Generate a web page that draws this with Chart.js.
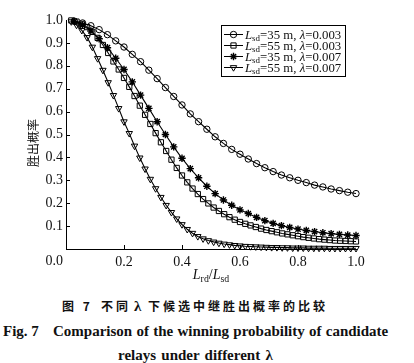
<!DOCTYPE html>
<html>
<head>
<meta charset="utf-8">
<script src="https://cdn.jsdelivr.net/npm/chart.js@4/dist/chart.umd.min.js"></script>
<style>
  html, body { margin: 0; padding: 0; background: #fff; }
  body { width: 414px; height: 363px; position: relative; overflow: hidden; }
  #chart { position: absolute; left: 0; top: 0; }
  .cap { position: absolute; white-space: nowrap; color: #111; line-height: 16px; }
  .cn { font-family: "Noto Sans CJK SC", sans-serif; font-size: 12px; font-weight: 700; letter-spacing: 3px; }
  .en { font-family: "Liberation Serif", serif; font-size: 15px; font-weight: 700; }
</style>
</head>
<body>
<canvas id="chart" width="414" height="285"></canvas>

<span class="cap cn" style="left:62px; top:298px">图 7</span>
<span class="cap cn" style="left:101px; top:298px">不同</span>
<span class="cap en" style="left:134px; top:298px">λ</span>
<span class="cap cn" style="left:148px; top:298px">下候选中继胜出概率的比较</span>
<span class="cap en" style="left:3px; top:323px">Fig. 7</span>
<span class="cap en" style="left:53px; top:323px; word-spacing:0.5px">Comparison of the winning probability of candidate</span>
<span class="cap en" style="left:118px; top:347px; word-spacing:1.5px">relays under different λ</span>

<script>
// L_rd in metres, one marker per metre
const lrd35 = [1,2,3,4,5,6,7,8,9,10,11,12,13,14,15,16,17,18,19,20,21,22,23,24,25,26,27,28,29,30,31,32,33,34,35]
const lrd55 = [1,2,3,4,5,6,7,8,9,10,11,12,13,14,15,16,17,18,19,20,21,22,23,24,25,26,27,28,29,30,
  31,32,33,34,35,36,37,38,39,40,41,42,43,44,45,46,47,48,49,50,51,52,53,54,55]

// winning probability
const p35_003 = [0.995,0.987,0.975,0.958,0.936,0.909,0.882,0.850,0.818,0.781,
  0.744,0.705,0.666,0.629,0.590,0.556,0.523,0.490,0.461,0.435,
  0.414,0.393,0.373,0.355,0.338,0.323,0.311,0.300,0.290,0.279,
  0.271,0.262,0.255,0.248,0.242]
const p55_003 = [0.998,0.993,0.983,0.969,0.948,0.922,0.891,0.856,0.819,0.784,
  0.747,0.708,0.668,0.626,0.586,0.546,0.506,0.466,0.428,0.390,
  0.354,0.321,0.291,0.264,0.240,0.218,0.199,0.181,0.166,0.152,
  0.139,0.128,0.118,0.110,0.103,0.096,0.089,0.083,0.078,0.073,
  0.068,0.064,0.060,0.056,0.052,0.049,0.046,0.043,0.041,0.039,
  0.037,0.036,0.035,0.034,0.033]
const p35_007 = [0.994,0.978,0.952,0.918,0.879,0.833,0.784,0.730,0.672,0.614,
  0.556,0.500,0.446,0.396,0.351,0.311,0.274,0.242,0.214,0.191,
  0.171,0.155,0.138,0.124,0.112,0.102,0.094,0.087,0.081,0.076,
  0.071,0.067,0.064,0.061,0.059]
const p55_007 = [0.993,0.978,0.955,0.924,0.882,0.832,0.781,0.727,0.671,0.614,
  0.556,0.505,0.450,0.398,0.350,0.305,0.264,0.226,0.191,0.160,
  0.132,0.107,0.086,0.069,0.055,0.045,0.037,0.031,0.026,0.022,
  0.019,0.016,0.014,0.012,0.011,0.010,0.009,0.008,0.007,0.007,
  0.006,0.006,0.005,0.005,0.005,0.004,0.004,0.004,0.004,0.003,
  0.003,0.003,0.003,0.003,0.003]

const lsdList = [35, 55, 35, 55]
const lambdaList = ['0.003', '0.003', '0.007', '0.007']
const xTickMarks = [0.2, 0.4, 0.6, 0.8]
const yTickMarks = [0.1, 0.2, 0.3, 0.4, 0.5, 0.6, 0.7, 0.8, 0.9]
const yTitle = '胜出概率'

const toPoints = (lrd, lsd, p) => lrd.map((d, i) => ({x: d / lsd, y: p[i]}))

const markers = [
  {pointStyle: 'circle', pointRadius: 3.2, pointRotation: 0, pointBorderWidth: 1, fill: 'rgba(0,0,0,0)'},
  {pointStyle: 'rect', pointRadius: 3.7, pointRotation: 0, pointBorderWidth: 1, fill: 'rgba(0,0,0,0)'},
  {pointStyle: 'star', pointRadius: 3.7, pointRotation: 0, pointBorderWidth: 1.4, fill: '#000'},
  {pointStyle: 'triangle', pointRadius: 3.7, pointRotation: 180, pointBorderWidth: 1, fill: 'rgba(0,0,0,0)'}
]

const series = [
  toPoints(lrd35, 35, p35_003),
  toPoints(lrd55, 55, p55_003),
  toPoints(lrd35, 35, p35_007),
  toPoints(lrd55, 55, p55_007)
]

const serif = '"Liberation Serif", "Times New Roman", serif'

const drawParts = (ctx, parts, x, y, size, center) => {
  const fontOf = p => (p.i ? 'italic ' : '') + (p.sub ? size * 0.7 : size) + 'px ' + serif
  let w = 0
  parts.forEach(p => { ctx.font = fontOf(p); w += ctx.measureText(p.t).width })
  let cx = center ? x - w / 2 : x
  parts.forEach(p => {
    ctx.font = fontOf(p)
    ctx.fillText(p.t, cx, y + (p.sub ? size * 0.22 : 0))
    cx += ctx.measureText(p.t).width
  })
}

const decor = {
  id: 'decor',
  afterDraw(chart) {
    const {ctx, chartArea: a, scales: {x, y}} = chart
    ctx.save()
    ctx.strokeStyle = '#000'
    ctx.lineWidth = 1
    // inward tick marks
    yTickMarks.forEach(v => {
      const py = Math.round(y.getPixelForValue(v)) + 0.5
      ctx.beginPath(); ctx.moveTo(a.left, py); ctx.lineTo(a.left + 4, py); ctx.stroke()
    })
    xTickMarks.forEach(v => {
      const px = Math.round(x.getPixelForValue(v)) + 0.5
      ctx.beginPath(); ctx.moveTo(px, a.bottom); ctx.lineTo(px, a.bottom - 4); ctx.stroke()
    })

    ctx.fillStyle = '#111'
    // shared origin label
    ctx.font = '14px ' + serif
    ctx.textAlign = 'right'
    ctx.textBaseline = 'middle'
    ctx.fillText('0.0', a.left - 3, a.bottom + 12)

    // y title
    ctx.save()
    ctx.translate(33, 143)
    ctx.rotate(-Math.PI / 2)
    ctx.textAlign = 'center'
    ctx.font = '12px "Noto Sans CJK SC"'
    ctx.fillText(yTitle, 0, 0)
    ctx.restore()

    // x title
    ctx.textAlign = 'left'
    ctx.textBaseline = 'alphabetic'
    drawParts(ctx, [{t: 'L', i: 1}, {t: 'rd', sub: 1}, {t: '/'}, {t: 'L', i: 1}, {t: 'sd', sub: 1}],
      (a.left + a.right) / 2, 279, 14, true)

    // legend
    ctx.strokeRect(221.5, 25.5, 124, 51)
    chart.data.datasets.forEach((ds, i) => {
      const cy = 34.5 + i * 11
      ctx.strokeStyle = '#000'
      ctx.lineWidth = 1
      ctx.beginPath(); ctx.moveTo(224, cy); ctx.lineTo(243, cy); ctx.stroke()
      const m = markers[i]
      ctx.fillStyle = m.fill
      ctx.lineWidth = m.pointBorderWidth
      Chart.helpers.drawPoint(ctx, {pointStyle: m.pointStyle, radius: m.pointRadius,
        rotation: m.pointRotation, borderWidth: m.pointBorderWidth}, 233.5, cy)
      ctx.fillStyle = '#111'
      drawParts(ctx, [{t: 'L', i: 1}, {t: 'sd', sub: 1}, {t: '=' + lsdList[i] + ' m, '},
        {t: 'λ', i: 1}, {t: '=' + lambdaList[i]}], 245, cy + 4, 12.8, false)
    })
    ctx.restore()
  }
}

const tickFont = {family: serif, size: 14}

new Chart(document.querySelector('#chart'), {
  type: 'line',
  data: {
    datasets: series.map((pts, i) => ({
      label: 'Lsd=' + lsdList[i] + ' m, λ=' + lambdaList[i],
      data: pts,
      borderColor: '#000',
      borderWidth: 1.1,
      backgroundColor: markers[i].fill,
      pointBackgroundColor: markers[i].fill,
      pointBorderColor: '#000',
      pointStyle: markers[i].pointStyle,
      pointRadius: markers[i].pointRadius,
      pointRotation: markers[i].pointRotation,
      pointBorderWidth: markers[i].pointBorderWidth,
      tension: 0,
      fill: false,
      clip: false
    }))
  },
  options: {
    responsive: false,
    animation: false,
    layout: {padding: {left: 0, right: 58, top: 20, bottom: 0}},
    plugins: {legend: {display: false}, tooltip: {enabled: false}},
    scales: {
      x: {
        type: 'linear', min: 0, max: 1,
        afterFit: s => { s.height = 36 },
        border: {display: true, color: '#000', width: 1},
        grid: {display: true, drawOnChartArea: false, drawTicks: false},
        ticks: {stepSize: 0.2, padding: 5, color: '#111', font: tickFont, maxRotation: 0, autoSkip: false,
          callback: v => Math.abs(v) < 1e-6 ? '' : Number(v).toFixed(1)}
      },
      y: {
        min: 0, max: 1,
        afterFit: s => { s.width = 66 },
        border: {display: true, color: '#000', width: 1},
        grid: {display: true, drawOnChartArea: false, drawTicks: false},
        ticks: {stepSize: 0.1, padding: 3, color: '#111', font: tickFont, autoSkip: false,
          callback: v => v < 0.05 ? '' : Number(v).toFixed(1)}
      }
    }
  },
  plugins: [decor]
})
</script>
</body>
</html>
